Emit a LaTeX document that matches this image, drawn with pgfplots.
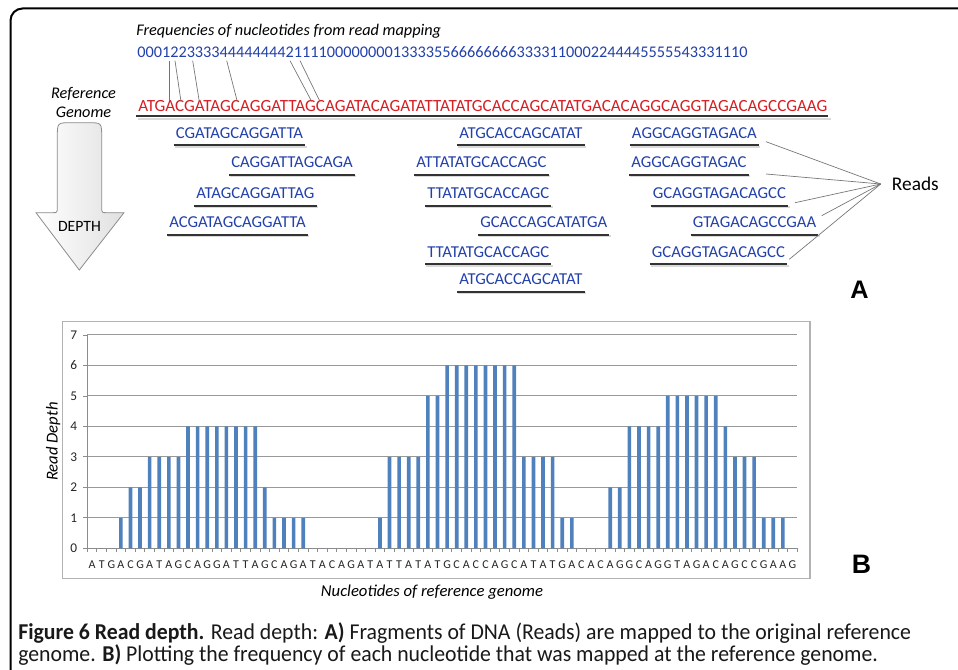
\documentclass[border=0pt]{standalone}
\usepackage{pgfplots}
\pgfplotsset{compat=1.18}
\usepackage{fontspec}
\setmainfont{Carlito}
\newfontfamily\arialfont{Liberation Sans}
\newfontfamily\capfont[FakeStretch=0.96]{Carlito}
\definecolor{seqblue}{RGB}{35,65,170}
\definecolor{seqred}{RGB}{215,30,35}
\definecolor{barblue}{RGB}{79,129,189}
\newcommand{\rd}[3]{%
  \node[anchor=base west, inner sep=0pt, text=seqblue, font=\fontsize{12.5}{14}\selectfont] (n) at (#1,#2) {#3};
  \draw[black!15, line width=1.5pt] ([xshift=-0.5pt,yshift=-6.2pt]n.base west) -- ([xshift=2.5pt,yshift=-6.2pt]n.base east);
  \draw[black!80, line width=1.5pt] ([xshift=-1.5pt,yshift=-4.9pt]n.base west) -- ([xshift=1.5pt,yshift=-4.9pt]n.base east);}
\begin{document}
\begin{tikzpicture}[font=\fontsize{12.2}{14}\selectfont]
\clip (0,0) rectangle (718.5pt,-502.5pt);
\fill[white] (0,0) rectangle (718.5pt,-502.5pt);
\begin{scope}[x=0.75pt,y=-0.75pt]
\draw[line width=1.5pt, rounded corners=9pt] (10.5,8.5) rectangle (1000,720);
% ---------- Part A ----------
\node[anchor=base west, inner sep=0pt, font=\fontsize{12.2}{14}\itshape] at (136,36) {Frequencies of nucleotides from read mapping};
\node[anchor=base west, inner sep=0pt, text=seqblue] at (137,57.3) {00012233334444444421111000000001333355666666663333110002244445555543331110};
\node[anchor=base west, inner sep=0pt, text=seqred, font=\fontsize{12.8}{14}\selectfont] at (138,111.7) {ATGACGATAGCAGGATTAGCAGATACAGATATTATATGCACCAGCATATGACACAGGCAGGTAGACAGCCGAAG};
\draw[black!15, line width=1.5pt] (138,119) -- (831,119);
\draw[black!80, line width=1.5pt] (136,116.5) -- (828,116.5);
\node[anchor=base, inner sep=0pt, font=\fontsize{12.2}{14}\itshape] at (83.5,99) {Reference};
\node[anchor=base, inner sep=0pt, font=\fontsize{12.2}{14}\itshape] at (83.5,118) {Genome};
% connector lines
\foreach \a/\b in {169/169,175/181,192.7/199.3,226.7/237.3,290/311.7,300/320}
  \draw[black!55, line width=0.5pt] (\a,60.7) -- (\b,101.5);
% arrow
\draw[black!45, line width=0.6pt, left color=white, right color=black!12]
  (57.3,137) .. controls (57.3,122.7) .. (71.3,122.7) -- (87.7,122.7)
  .. controls (101.7,122.7) .. (101.7,137) -- (101.7,207)
  .. controls (101.7,212.7) .. (107,212.7) -- (124,212.7) -- (79.3,270)
  -- (36,212.7) -- (52,212.7) .. controls (57.3,212.7) .. (57.3,207) -- cycle;
\node[font=\fontsize{11.8}{13}\selectfont] at (79.5,226.5) {DEPTH};
% reads col 1
\rd{175.7}{138.5}{CGATAGCAGGATTA}
\rd{231}{168}{CAGGATTAGCAGA}
\rd{196}{199}{ATAGCAGGATTAG}
\rd{169}{228}{ACGATAGCAGGATTA}
% reads col 2
\rd{459}{138.5}{ATGCACCAGCATAT}
\rd{416}{168}{ATTATATGCACCAGC}
\rd{427}{199}{TTATATGCACCAGC}
\rd{480}{228}{GCACCAGCATATGA}
\rd{427}{257.5}{TTATATGCACCAGC}
\rd{459}{285}{ATGCACCAGCATAT}
% reads col 3
\rd{631.7}{138.5}{AGGCAGGTAGACA}
\rd{631}{168}{AGGCAGGTAGAC}
\rd{652.7}{199}{GCAGGTAGACAGCC}
\rd{692.7}{228}{GTAGACAGCCGAA}
\rd{651.7}{257.5}{GCAGGTAGACAGCC}
\node[anchor=west, inner sep=0pt, font=\fontsize{14.5}{16}\selectfont] at (891.7,184) {Reads};
\foreach \p in {(766,141.7),(766,174),(795,202.7),(821.7,215.7),(789.3,259.3)}
  \draw[black!55, line width=0.5pt] (880.7,184) -- \p;
\node[anchor=base west, inner sep=0pt, font=\arialfont\bfseries\fontsize{19}{21}\selectfont] at (850,298.3) {A};
% ---------- Part B frame ----------
\draw[black!30, line width=1pt] (62.7,321.7) rectangle (810,578.3);
\node[anchor=base west, inner sep=0pt, font=\arialfont\bfseries\fontsize{20}{22}\selectfont] at (851.7,573.3) {B};
% ---------- Caption ----------
\node[anchor=base west, inner sep=0pt, font=\capfont\fontsize{17}{20}\selectfont, text=black!90] at (18,639) {\textbf{Figure 6 Read depth.} Read depth: \textbf{A)} Fragments of DNA (Reads) are mapped to the original reference};
\node[anchor=base west, inner sep=0pt, font=\capfont\fontsize{17}{20}\selectfont, text=black!90] at (18,661.5) {genome. \textbf{B)} Plotting the frequency of each nucleotide that was mapped at the reference genome.};
\end{scope}
\begin{axis}[
  at={(65.475pt,-411.225pt)}, anchor=south west,
  width=532.5pt, height=160pt, scale only axis,
  /pgf/number format/assume math mode=true,
  xmin=-0.5, xmax=73.5, ymin=0, ymax=7,
  axis lines=left, axis line style={-, black!45, line width=0.75pt},
  ytick={0,...,7}, ymajorgrids, major grid style={black!40, line width=0.75pt},
  xtick={-0.5,0.5,...,73.5}, xticklabels={},
  extra x ticks={0,...,73},
  extra x tick labels={A,T,G,A,C,G,A,T,A,G,C,A,G,G,A,T,T,A,G,C,A,G,A,T,A,C,A,G,A,T,A,T,T,A,T,A,T,G,C,A,C,C,A,G,C,A,T,A,T,G,A,C,A,C,A,G,G,C,A,G,G,T,A,G,A,C,A,G,C,C,G,A,A,G},
  extra x tick style={major tick length=0pt, xticklabel style={font=\fontsize{9}{10}\selectfont, text=black!85, yshift=-5.5pt}},
  tick align=outside, major tick length=3pt,
  tick style={black!45, line width=0.6pt},
  yticklabel style={font=\fontsize{10}{11}\selectfont, text=black!85, xshift=-1pt},
  ylabel={Read Depth}, xlabel={Nucleotides of reference genome},
  label style={font=\fontsize{12.5}{14}\itshape},
  ylabel style={at={(axis description cs:-0.048,0.5)}, anchor=center},
  xlabel style={at={(axis description cs:0.4855,-0.205)}, anchor=center},
  ybar, bar width=0.38, bar shift=0pt,
  clip=false,
]
\addplot[fill=barblue, draw=none] coordinates {(0,0)(1,0)(2,0)(3,1)(4,2)(5,2)(6,3)(7,3)(8,3)(9,3)(10,4)(11,4)(12,4)(13,4)(14,4)(15,4)(16,4)(17,4)(18,2)(19,1)(20,1)(21,1)(22,1)(23,0)(24,0)(25,0)(26,0)(27,0)(28,0)(29,0)(30,1)(31,3)(32,3)(33,3)(34,3)(35,5)(36,5)(37,6)(38,6)(39,6)(40,6)(41,6)(42,6)(43,6)(44,6)(45,3)(46,3)(47,3)(48,3)(49,1)(50,1)(51,0)(52,0)(53,0)(54,2)(55,2)(56,4)(57,4)(58,4)(59,4)(60,5)(61,5)(62,5)(63,5)(64,5)(65,5)(66,4)(67,3)(68,3)(69,3)(70,1)(71,1)(72,1)(73,0)};
\end{axis}
\end{tikzpicture}
\end{document}
